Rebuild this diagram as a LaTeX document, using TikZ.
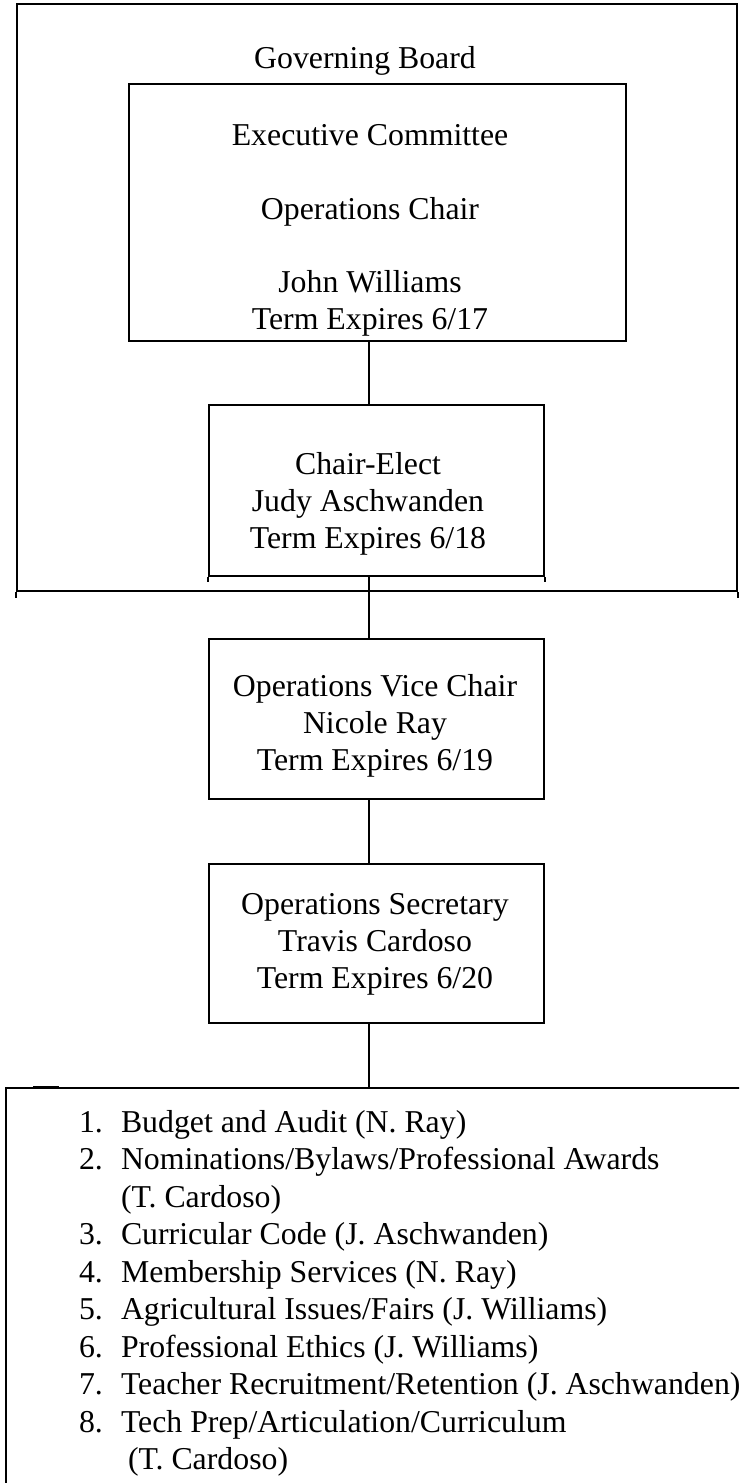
\documentclass[tikz,border=0pt]{standalone}
\usepackage{fontspec}
\setmainfont{Liberation Serif}
\newcommand\tbfont{\fontsize{15.9pt}{18.75pt}\selectfont}
\begin{document}
\begin{tikzpicture}[x=0.5pt,y=-0.5pt,line width=1pt,
  box/.style={draw=black,line width=1pt,rectangle,inner sep=0pt},
  txt/.style={anchor=base,inner sep=0pt,font=\tbfont},
  ltxt/.style={anchor=base west,inner sep=0pt,font=\tbfont},
  conn/.style={draw=black,line width=1pt}]
\useasboundingbox (0,0) rectangle (739,1483);
\clip (0,0) rectangle (739,1483);
\fill[white] (0,0) rectangle (739,1483);
% column of connectors
\coordinate (cx) at (369,0);
% outer governing board
\node[box,minimum width=360pt,minimum height=293.5pt] (board) at (377,297.5) {};
\draw[conn] (board.south west) -- ++(0,6);
\draw[conn] (board.south east) -- ++(0,6);
\node[txt] (gb) at (365,68) {Governing Board};
% executive committee
\node[box,minimum width=248.5pt,minimum height=128.5pt] (exec) at (377.5,212.5) {};
\node[txt] (e1) at (370,145) {Executive Committee};
\node[txt] (e2) at (370,219) {Operations Chair};
\node[txt] (e3) at (370,292) {John Williams};
\node[txt] (e4) at (370,329) {Term Expires 6/17};
% chair-elect
\node[box,minimum width=167.5pt,minimum height=85.5pt] (chair) at (376.5,490.5) {};
\draw[conn] (chair.south west) -- ++(0,5);
\draw[conn] (chair.south east) -- ++(0,5);
\node[txt] (c1) at (368,474) {Chair-Elect};
\node[txt] (c2) at (368,511) {Judy Aschwanden};
\node[txt] (c3) at (368,548) {Term Expires 6/18};
% vice chair
\node[box,minimum width=167.5pt,minimum height=80pt] (vice) at (376.5,719) {};
\node[txt] (v1) at (375,696) {Operations Vice Chair};
\node[txt] (v2) at (375,733) {Nicole Ray};
\node[txt] (v3) at (375,770) {Term Expires 6/19};
% secretary
\node[box,minimum width=167.5pt,minimum height=79.5pt] (sec) at (376.5,943.5) {};
\node[txt] (s1) at (375,914) {Operations Secretary};
\node[txt] (s2) at (375,951) {Travis Cardoso};
\node[txt] (s3) at (375,988) {Term Expires 6/20};
% committees box (cut off at right and bottom)
\node[box,minimum width=380pt,minimum height=220pt] (comm) at (386,1308) {};
\draw[line width=1.6pt] (33,1087.7) -- (59,1087.7);
% connectors
\draw[conn] (exec.south -| cx) -- (chair.north -| cx);
\draw[conn] (chair.south -| cx) -- (vice.north -| cx);
\draw[conn] (vice.south -| cx) -- (sec.north -| cx);
\draw[conn] (sec.south -| cx) -- (comm.north -| cx);
% list
\foreach \n/\t/\y/\xx in {
  1./{Budget and Audit (N. Ray)}/0/120,
  2./{Nominations/Bylaws/Professional Awards}/1/120,
  /{(T. Cardoso)}/2/120,
  3./{Curricular Code (J. Aschwanden)}/3/120,
  4./{Membership Services (N. Ray)}/4/120,
  5./{Agricultural Issues/Fairs (J. Williams)}/5/120,
  6./{Professional Ethics (J. Williams)}/6/120,
  7./{Teacher Recruitment/Retention (J. Aschwanden)}/7/120,
  8./{Tech Prep/Articulation/Curriculum}/8/120,
  /{(T. Cardoso)}/9/127}{
  \node[ltxt] (num\y) at (78,1132+37.5*\y) {\n};
  \node[ltxt] (item\y) at (\xx,1132+37.5*\y) {\t};
}
\end{tikzpicture}
\end{document}
